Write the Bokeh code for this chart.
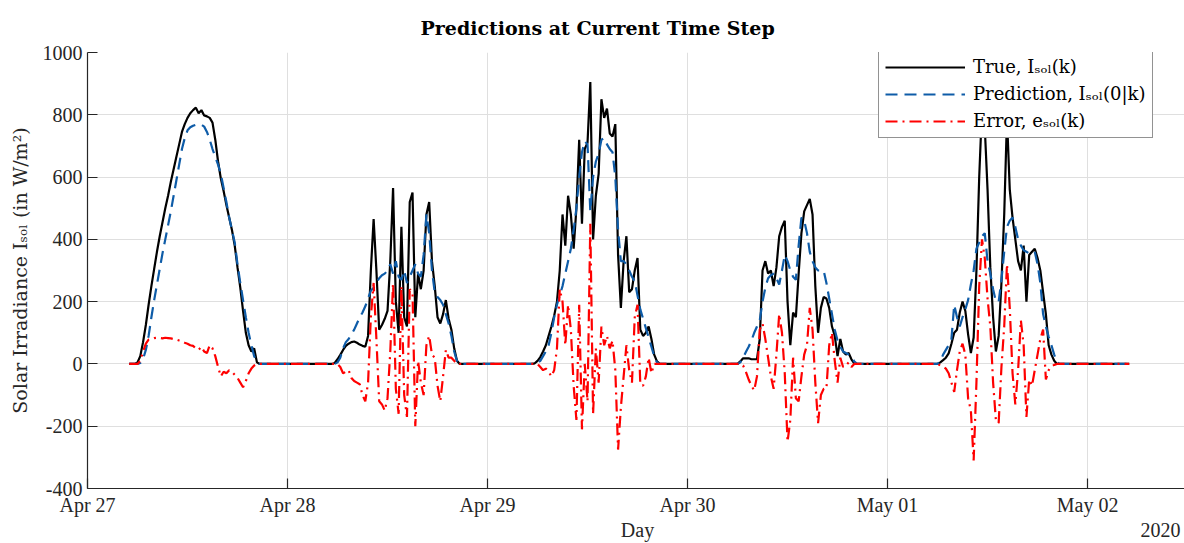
import numpy as np
import pandas as pd
from bokeh.plotting import figure
from bokeh.models import (Range1d, FixedTicker, DatetimeTickFormatter, DatetimeAxis,
                          CustomJSTickFormatter)
from bokeh.embed import file_html
from bokeh.resources import INLINE

# ---------------- data ----------------
DAYS = ["2020-04-27", "2020-04-28", "2020-04-29", "2020-04-30", "2020-05-01"]
SERIES_START = "2020-04-27 05:00"
SERIES_END = "2020-05-02 05:00"
DAY_FIRST_MIN = 320          # first daylight sample of each day: 05:20
STEP_MIN = 20                # sampling step in minutes

# True irradiance, daylight samples 05:20 ... 21:00 every 20 min (W/m^2)
true_apr27 = [0, 0, 5, 25, 70, 125, 190, 250, 305, 360, 410, 455, 500, 540, 585, 625,
              665, 705, 745, 770, 790, 805, 815, 823, 805, 815, 798, 795, 790, 775, 720, 650,
              595, 555, 510, 470, 430, 380, 310, 245, 170, 100, 60, 40, 50, 5, 0, 0]
true_apr28 = [0, 3, 15, 29, 45, 58, 65, 70, 72, 68, 62, 58, 55, 90, 300, 465,
              300, 110, 125, 145, 170, 330, 565, 200, 100, 440, 150, 120, 520, 550, 150, 290,
              240, 300, 480, 520, 330, 250, 150, 130, 160, 205, 145, 110, 50, 10, 0, 0]
true_apr29 = [0, 2, 10, 22, 40, 60, 90, 120, 155, 200, 300, 480, 380, 540, 480, 370,
              500, 720, 450, 690, 710, 905, 400, 540, 610, 850, 790, 820, 740, 730, 770, 350,
              180, 330, 410, 230, 240, 300, 340, 110, 90, 100, 120, 80, 30, 8, 0, 0]
true_apr30 = [0, 0, 0, 8, 18, 18, 18, 15, 15, 15, 80, 300, 330, 290, 300, 250,
              310, 410, 440, 460, 200, 60, 165, 150, 290, 420, 490, 510, 530, 480, 250, 100,
              180, 215, 210, 180, 120, 90, 25, 80, 40, 30, 35, 15, 2, 0, 0, 0]
true_may01 = [0, 0, 0, 5, 12, 20, 34, 65, 100, 110, 165, 200, 170, 95, 35, 85,
              300, 600, 820, 760, 560, 310, 150, 40, 90, 260, 480, 790, 560, 470, 400, 330,
              300, 380, 200, 350, 360, 370, 340, 300, 230, 160, 60, 30, 10, 0, 0, 0]

# Prediction I_sol(0|k)
pred_apr27 = [0, 0, 0, 3, 15, 45, 90, 150, 205, 255, 305, 355, 400, 445, 490, 540,
              590, 640, 690, 725, 750, 760, 765, 768, 770, 768, 762, 745, 720, 690, 665, 640,
              610, 565, 520, 470, 430, 390, 320, 260, 205, 150, 100, 60, 25, 8, 0, 0]
pred_apr28 = [0, 0, 5, 20, 50, 70, 80, 95, 110, 130, 150, 165, 185, 210, 235, 245,
              260, 275, 285, 290, 300, 320, 290, 330, 280, 270, 300, 260, 280, 300, 320, 290,
              280, 350, 480, 420, 300, 230, 215, 205, 190, 160, 130, 90, 40, 10, 0, 0]
pred_apr29 = [0, 0, 3, 10, 25, 40, 60, 100, 150, 190, 220, 250, 290, 330, 370, 430,
              500, 600, 680, 715, 705, 490, 600, 650, 675, 720, 725, 705, 690, 680, 600, 430,
              330, 330, 320, 300, 280, 265, 220, 175, 145, 115, 85, 55, 25, 5, 0, 0]
pred_apr30 = [0, 0, 0, 5, 20, 38, 55, 75, 100, 120, 140, 200, 245, 275, 285, 290,
              275, 255, 300, 350, 330, 300, 280, 270, 380, 470, 460, 420, 360, 330, 310, 300,
              300, 300, 260, 210, 160, 110, 75, 55, 40, 35, 30, 25, 8, 0, 0, 0]
pred_may01 = [0, 0, 0, 8, 30, 45, 60, 80, 190, 150, 120, 150, 175, 205, 255, 300,
              370, 390, 410, 420, 330, 290, 240, 200, 200, 270, 360, 440, 460, 470, 440, 400,
              380, 365, 360, 355, 360, 360, 320, 260, 160, 120, 87, 60, 30, 5, 0, 0]

# Error e_sol(k)
err_apr27 = [0, 0, 0, 10, 40, 65, 78, 80, 83, 84, 83, 82, 84, 83, 82, 80,
             78, 75, 72, 68, 65, 60, 58, 50, 45, 55, 40, 35, 60, 50, 25, -10,
             -40, -25, -30, -20, -25, -35, -45, -60, -75, -55, -30, -15, -5, 0, 0, 0]
err_apr28 = [0, 0, 0, -10, -30, -25, -20, -45, -55, -60, -65, -100, -120, -60, 150, 260,
             80, -120, -130, -150, -110, 40, 260, -80, -160, 250, -100, -170, 240, 230, -200, 10,
             -60, -100, 60, 90, 30, 20, -70, -120, -40, 45, 20, 20, 10, 0, 0, 0]
err_apr29 = [0, 0, 0, -10, -20, -15, -25, -40, -20, 50, 240, 200, 60, 190, 110, -70,
             -180, 190, -210, 0, -120, 450, -160, 50, -60, 120, 60, 90, 50, 75, -20, -275,
             -140, -40, 60, -20, -60, 150, 190, -65, -70, -40, 20, -30, 0, 0, 0, 0]
err_apr30 = [0, 0, 0, 0, -5, -25, -50, -70, -85, -40, 110, 130, 80, 20, -40, -80,
             30, 160, 100, -30, -250, -180, 20, -110, -120, -40, 30, 60, 180, 110, -60, -190,
             -100, -80, -80, 60, 100, 10, -60, 20, -10, -5, 5, -10, 0, 0, 0, 0]
err_may01 = [0, 0, 0, -5, -8, -15, -30, -60, -90, -20, 40, 65, 30, -110, -150, -310,
             -60, 250, 400, 340, 210, 120, -60, -180, -190, -10, 120, 320, 180, -30, -130, -20,
             140, 60, -170, -50, -70, -20, 30, 80, 110, -50, -20, -8, -3, 0, 0, 0]

true_days = [true_apr27, true_apr28, true_apr29, true_apr30, true_may01]
pred_days = [pred_apr27, pred_apr28, pred_apr29, pred_apr30, pred_may01]
err_days = [err_apr27, err_apr28, err_apr29, err_apr30, err_may01]

TICK_DAYS = ["2020-04-27", "2020-04-28", "2020-04-29", "2020-04-30", "2020-05-01", "2020-05-02"]
Y_TICKS = [-400, -200, 0, 200, 400, 600, 800, 1000]
X_LABEL = "Day"
YEAR_LABEL = "2020"

# ---------------- build series (night samples are zero) ----------------
times = pd.date_range(SERIES_START, SERIES_END, freq=f"{STEP_MIN}min")
day_index = {pd.Timestamp(d).date(): k for k, d in enumerate(DAYS)}


def assemble(day_lists):
    out = []
    for t in times:
        k = day_index.get(t.date())
        m = t.hour * 60 + t.minute
        i = (m - DAY_FIRST_MIN) // STEP_MIN
        if k is not None and m >= DAY_FIRST_MIN and 0 <= i < len(day_lists[k]):
            out.append(day_lists[k][i])
        else:
            out.append(0)
    return np.array(out, dtype=float)


y_true = assemble(true_days)
y_pred = assemble(pred_days)
y_err = assemble(err_days)


def ms(s):
    return pd.Timestamp(s).value / 1e6


# ---------------- figure ----------------
SERIF = "Liberation Serif"
WIDE = "DejaVu Serif"
DARK = "#262626"

x_start = ms("2020-04-27 00:00")
x_end = ms("2020-05-02 11:38")

p = figure(width=1184, height=543, x_axis_type="datetime",
           output_backend="svg", toolbar_location=None,
           x_range=Range1d(x_start, x_end),
           y_range=Range1d(-400, 1000),
           min_border_left=87, min_border_right=0,
           min_border_top=52, min_border_bottom=0)

p.title.text = "Predictions at Current Time Step"
p.title.text_font = WIDE
p.title.text_font_size = "19px"
p.title.text_font_style = "bold"
p.title.text_color = "black"
p.title.align = "left"
p.title.offset = 333
p.title.standoff = 27

p.outline_line_color = None
p.background_fill_color = "white"
p.border_fill_color = "white"

p.line(times, y_true, line_color="black", line_width=2.2,
       legend_label="True, Iₛₒₗ(k)")
p.line(times, y_pred, line_color="#0e5ca8", line_width=2.2, line_dash="12 7",
       legend_label="Prediction, Iₛₒₗ(0|k)")
p.line(times, y_err, line_color="#ff0000", line_width=2.2, line_dash="12 5 2 5",
       legend_label="Error, eₛₒₗ(k)")

# axes
xax = p.xaxis[0]
yax = p.yaxis[0]
xax.ticker = FixedTicker(ticks=[ms(d) for d in TICK_DAYS])
xax.formatter = DatetimeTickFormatter(days="%b %d", months="%b %d", hours="%b %d")
yax.ticker = FixedTicker(ticks=Y_TICKS)
yax.formatter = CustomJSTickFormatter(code="return tick.toFixed(0);")
for ax in (xax, yax):
    ax.axis_line_color = DARK
    ax.axis_line_width = 1.2
    ax.major_tick_line_color = DARK
    ax.major_tick_line_width = 1.2
    ax.major_tick_in = 10
    ax.major_tick_out = 0
    ax.minor_tick_line_color = None
    ax.major_label_text_font = SERIF
    ax.major_label_text_font_size = "20px"
    ax.major_label_text_color = DARK
    ax.axis_label_text_font = WIDE
    ax.axis_label_text_font_size = "19px"
    ax.axis_label_text_font_style = "normal"
    ax.axis_label_text_color = DARK

xax.major_label_standoff = 5
yax.axis_label = "Solar Irradiance Iₛₒₗ (in W/m²)"
yax.major_label_standoff = 5
yax.axis_label_standoff = 9

# second row under the time axis: "Day" centred, year at the right end
label_axis = DatetimeAxis(
    ticker=FixedTicker(ticks=[ms("2020-04-29 18:00"), ms("2020-05-02 08:45")]),
    formatter=CustomJSTickFormatter(
        args=dict(names=[X_LABEL, YEAR_LABEL]), code="return names[index];"),
    axis_line_color=None, major_tick_line_color=None, minor_tick_line_color=None,
    major_tick_in=0, major_tick_out=0, major_label_standoff=0,
    major_label_text_font=SERIF, major_label_text_font_size="20px",
    major_label_text_color=DARK)
p.add_layout(label_axis, "below")

p.xgrid.grid_line_color = "#dfdfdf"
p.ygrid.grid_line_color = "#dfdfdf"
p.xgrid.grid_line_width = 1
p.ygrid.grid_line_width = 1
p.xgrid.ticker = xax.ticker

# legend
lg = p.legend[0]
lg.location = (791, 350)
lg.label_text_font = WIDE
lg.label_text_font_size = "18px"
lg.label_text_color = "black"
lg.glyph_width = 80
lg.glyph_height = 20
lg.label_height = 20
lg.label_standoff = 8
lg.spacing = 6
lg.padding = 6
lg.margin = 0
lg.border_line_color = DARK
lg.border_line_width = 1
lg.background_fill_color = "white"
lg.background_fill_alpha = 1.0

open("out.html", "w").write(file_html(p, INLINE))
